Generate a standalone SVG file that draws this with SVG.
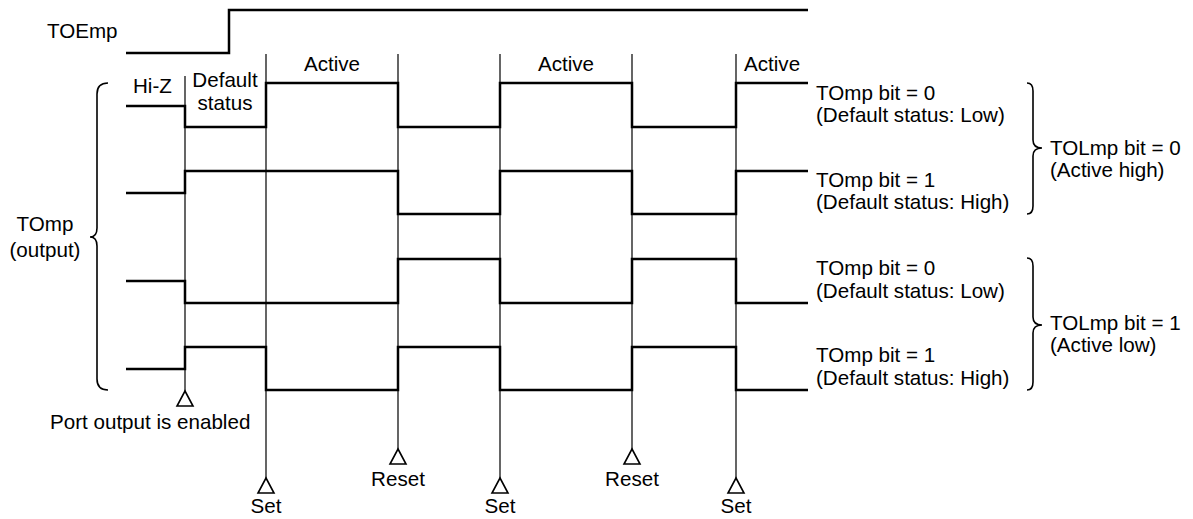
<svg xmlns="http://www.w3.org/2000/svg" width="1193" height="519" viewBox="0 0 1193 519">
<style>
text{font-family:"Liberation Sans",Arial,sans-serif;font-size:20.6px;fill:#000}
.w{fill:none;stroke:#000;stroke-width:2.5;stroke-linejoin:miter}
.v{fill:none;stroke:#000;stroke-width:1.2}
.b{fill:none;stroke:#000;stroke-width:1.6}
.t{fill:#fff;stroke:#000;stroke-width:1.6}
.c{text-anchor:middle}
</style>
<defs>
<path id="tri" class="t" d="M0,0 L8,15 L-8,15 Z"/>
</defs>
<rect width="1193" height="519" fill="#fff"/>
<g id="timing-lines">
<path class="v" d="M185,76 V391 M266,54 V478 M398,54 V449 M500,54 V478 M632,54 V449 M736,54 V478"/>
</g>
<g id="markers">
<use href="#tri" x="185" y="391"/>
<use href="#tri" x="266" y="478"/>
<use href="#tri" x="398" y="449"/>
<use href="#tri" x="500" y="478"/>
<use href="#tri" x="632" y="449"/>
<use href="#tri" x="736" y="478"/>
</g>
<g id="toemp">
<path class="w" d="M126,53 H229 V10 H808"/>
<text x="47" y="38">TOEmp</text>
</g>
<g id="waves">
<path class="w" d="M126,106 H185 V127 H266 V83 H398 V127 H500 V83 H632 V127 H736 V83 H808"/>
<path class="w" d="M126,193 H185 V171 H398 V214 H500 V171 H632 V214 H736 V171 H808"/>
<path class="w" d="M126,281 H185 V303 H398 V259 H500 V303 H632 V259 H736 V303 H808"/>
<path class="w" d="M126,369 H185 V347 H266 V390 H398 V347 H500 V390 H632 V347 H736 V390 H808"/>
</g>
<g id="braces">
<path class="b" d="M108,83 Q97,83 97,94 V228 Q97,237 90,237 Q97,237 97,246 V379 Q97,390 108,390"/>
<path class="b" d="M1027,83 Q1033,83 1033,91 V140 Q1033,148 1042,148 Q1033,148 1033,156 V206 Q1033,214 1027,214"/>
<path class="b" d="M1027,258 Q1033,258 1033,266 V317 Q1033,325 1042,325 Q1033,325 1033,333 V382 Q1033,390 1027,390"/>
</g>
<g id="labels">
<text x="133" y="93">Hi-Z</text>
<text class="c" x="225" y="87">Default</text>
<text class="c" x="225" y="110">status</text>
<text class="c" x="332" y="71">Active</text>
<text class="c" x="566" y="71">Active</text>
<text x="744" y="71">Active</text>
<text class="c" x="45" y="231">TOmp</text>
<text class="c" x="45" y="257">(output)</text>
<text x="50" y="429">Port output is enabled</text>
<text class="c" x="266" y="513">Set</text>
<text class="c" x="398" y="486">Reset</text>
<text class="c" x="500" y="513">Set</text>
<text class="c" x="632" y="486">Reset</text>
<text class="c" x="736" y="513">Set</text>
<text x="816" y="100">TOmp bit = 0</text>
<text x="816" y="122">(Default status: Low)</text>
<text x="816" y="187">TOmp bit = 1</text>
<text x="816" y="209">(Default status: High)</text>
<text x="816" y="275">TOmp bit = 0</text>
<text x="816" y="298">(Default status: Low)</text>
<text x="816" y="362">TOmp bit = 1</text>
<text x="816" y="385">(Default status: High)</text>
<text x="1050" y="155">TOLmp bit = 0</text>
<text x="1050" y="177">(Active high)</text>
<text x="1050" y="330">TOLmp bit = 1</text>
<text x="1050" y="352">(Active low)</text>
</g>
</svg>
